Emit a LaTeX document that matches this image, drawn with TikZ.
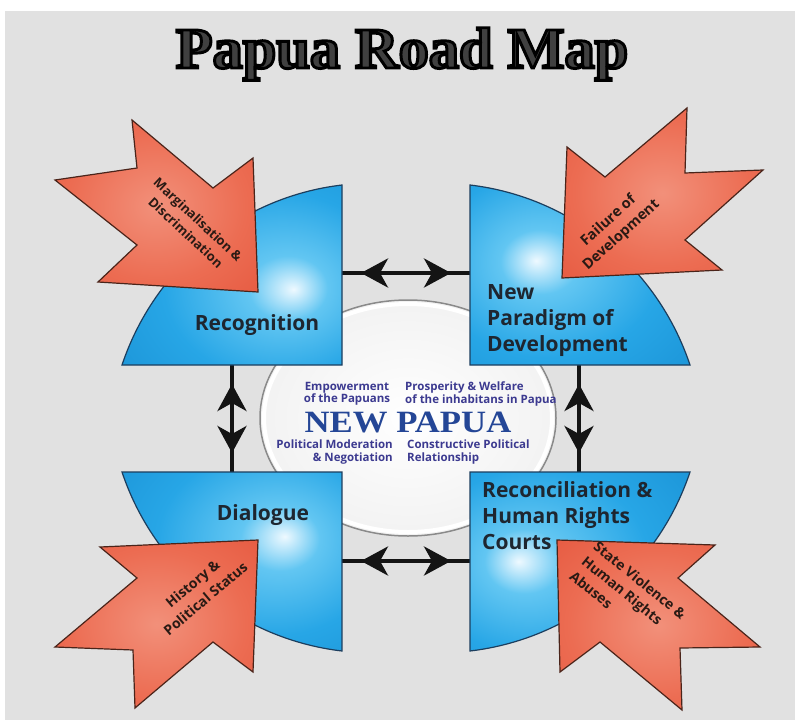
\documentclass[tikz,border=0pt]{standalone}
\usepackage{fontspec}
\newfontfamily\osans{Open Sans}
\newfontface\ttlstroke{Liberation Serif Bold}[FakeBold=5]
\newfontface\npfont{Liberation Serif Bold}
\usetikzlibrary{arrows.meta,decorations.markings}

\definecolor{bgcol}{HTML}{E1E1E1}
\definecolor{titlegray}{HTML}{404040}
\definecolor{bhi}{HTML}{EEF9FF}
\definecolor{bmid}{HTML}{62C6F2}
\definecolor{bmain}{HTML}{27A6E6}
\definecolor{bedge}{HTML}{1489CE}
\definecolor{bline}{HTML}{1C3E5E}
\definecolor{rhi}{HTML}{F2907A}
\definecolor{rmain}{HTML}{EC6C52}
\definecolor{redge}{HTML}{E14C34}
\definecolor{rline}{HTML}{4A241A}
\definecolor{lbl}{HTML}{1E2630}
\definecolor{rtxt}{HTML}{2A1A14}
\definecolor{ctxt}{HTML}{3C3A90}
\definecolor{npblue}{HTML}{244696}
\definecolor{cring}{HTML}{8A8A8A}

\pgfdeclareradialshading{bTL}{\pgfpoint{14bp}{-4bp}}{color(0bp)=(bhi); color(9bp)=(bmid); color(26bp)=(bmain); color(55bp)=(bedge); color(100bp)=(bedge)}
\pgfdeclareradialshading{bTR}{\pgfpoint{-10bp}{4bp}}{color(0bp)=(bhi); color(9bp)=(bmid); color(26bp)=(bmain); color(55bp)=(bedge); color(100bp)=(bedge)}
\pgfdeclareradialshading{bBL}{\pgfpoint{12bp}{7bp}}{color(0bp)=(bhi); color(9bp)=(bmid); color(26bp)=(bmain); color(55bp)=(bedge); color(100bp)=(bedge)}
\pgfdeclareradialshading{bBR}{\pgfpoint{-14bp}{0bp}}{color(0bp)=(bhi); color(9bp)=(bmid); color(26bp)=(bmain); color(55bp)=(bedge); color(100bp)=(bedge)}
\pgfdeclareradialshading{rsh}{\pgfpoint{0bp}{0bp}}{color(0bp)=(rhi); color(22bp)=(rmain); color(50bp)=(redge); color(100bp)=(redge)}
\pgfdeclareradialshading{csh}{\pgfpoint{0bp}{0bp}}{color(0bp)=(white); color(30bp)=(white!94!black); color(50bp)=(white!88!black); color(100bp)=(white!88!black)}

\tikzset{
  bshape/.style={shade, draw=bline, line width=1.2pt, line join=miter},
  redarrow/.style={shade, shading=rsh, draw=rline, line width=1.2pt, line join=miter},
  blbl/.style={font=\osans\bfseries\fontsize{21}{26}\selectfont, text=lbl, inner sep=0pt},
  rlbl/.style={font=\osans\bfseries\fontsize{13}{18}\selectfont, text=rtxt, inner sep=0pt, align=center},
  ctr/.style={font=\osans\bfseries\fontsize{11.5}{12.5}\selectfont, text=ctxt, inner sep=0pt},
  tiphead/.tip={Stealth[length=27pt,width=29pt,inset=8pt]},
  conn/.style={line width=4pt, draw=black!92, postaction={decorate},
    decoration={markings,
      mark=at position 19pt with {\arrowreversed[black!92]{tiphead}},
      mark=at position -19pt with {\arrow[black!92]{tiphead}}}},
}

\begin{document}
\begin{tikzpicture}[x=1pt,y=-1pt]
\useasboundingbox (0,0) rectangle (795,720);
\fill[white] (0,0) rectangle (795,720);
\fill[bgcol] (5,11) rectangle (795,720);

% title: grey fill with a black stroke
\node[anchor=base, inner sep=0pt] (title) at (402,68)
  {\ttlstroke\fontsize{58}{58}\selectfont\color{titlegray}\special{pdf:literal direct 0 0 0 RG}\scalebox{1.04}[1]{Papua Road Map}};

% central ellipse
\path[shade, shading=csh] (408,418) ellipse [x radius=148pt, y radius=118pt];
\draw[white, line width=4pt] (408,418) ellipse [x radius=144pt, y radius=114pt];
\draw[cring, line width=1.5pt] (408,418) ellipse [x radius=148pt, y radius=118pt];

% connector end points
\coordinate (tlE) at (342,273);
\coordinate (trW) at (470,273);
\coordinate (blE) at (342,561);
\coordinate (brW) at (470,561);
\coordinate (tlS) at (232,365);
\coordinate (blN) at (232,472);
\coordinate (trS) at (579,365);
\coordinate (brN) at (579,472);

\draw[conn] (tlE) -- (trW);
\draw[conn] (blE) -- (brW);
\draw[conn] (tlS) -- (blN);
\draw[conn] (trS) -- (brN);

% blue quarter shapes
\path[bshape, shading=bTL] (122,365) .. controls (154.5,267.7) and (240,197) .. (342,185) -- (342,365) -- cycle;
\path[bshape, shading=bTR] (470,185) .. controls (572,197) and (657.5,267.7) .. (690,365) -- (470,365) -- cycle;
\path[bshape, shading=bBL] (122,472) .. controls (154.5,569.3) and (240,639) .. (342,651) -- (342,472) -- cycle;
\path[bshape, shading=bBR] (470,651) .. controls (572,639) and (657.5,569.3) .. (690,472) -- (470,472) -- cycle;

% red arrows
\path[redarrow] (258,292) -- (253,158) -- (213,188) -- (132,120) -- (137,168) -- (55,180) -- (137,245) -- (98,282) -- cycle;
\path[redarrow] (562,278) -- (567,147) -- (605,177) -- (687,108) -- (685,173) -- (763,170) -- (685,240) -- (722,270) -- cycle;
\path[redarrow] (258,540) -- (100,547) -- (137,578) -- (55,647) -- (133,650) -- (135,708) -- (213,642) -- (253,672) -- cycle;
\path[redarrow] (557,540) -- (715,545) -- (678,578) -- (760,647) -- (680,648) -- (682,710) -- (600,642) -- (560,672) -- cycle;

% blue labels
\node[blbl] (rec) at (257,325) {Recognition};
\node[blbl, align=left, anchor=west] (npd) at (487,321) {New\\Paradigm of\\Development};
\node[blbl] (dia) at (263,515) {Dialogue};
\node[blbl, align=left, anchor=west] (rhr) at (482,516) {Reconciliation \&\\Human Rights\\Courts};

% red labels
\node[rlbl, rotate=-43] (mar) at (192,226) {Marginalisation \&\\Discrimination};
\node[rlbl, rotate=42, font=\osans\bfseries\fontsize{14.5}{19}\selectfont] (fail) at (615,228) {Failure of\\Development};
\node[rlbl, rotate=40, font=\osans\bfseries\fontsize{14}{20}\selectfont] (hist) at (199,591) {History \&\\Political Status};
\node[rlbl, rotate=-39, align=left, font=\osans\bfseries\fontsize{14}{19}\selectfont] (svh) at (628,595) {State Violence \&\\Human Rights\\Abuses};

% centre texts
\node[ctr, align=center] (emp) at (347,394) {Empowerment\\of the Papuans};
\node[ctr, align=left, anchor=west] (pros) at (405,394) {Prosperity \& Welfare\\of the inhabitans in Papua};
\node[ctr, align=right, anchor=east] (pol) at (393,452) {Political Moderation\\\& Negotiation};
\node[ctr, align=left, anchor=west] (con) at (407,452) {Constructive Political\\Relationship};
\node[inner sep=0pt, text=npblue, font=\npfont\fontsize{31}{31}\selectfont] (np) at (408,422) {\scalebox{1.12}[1]{NEW PAPUA}};
\end{tikzpicture}
\end{document}
